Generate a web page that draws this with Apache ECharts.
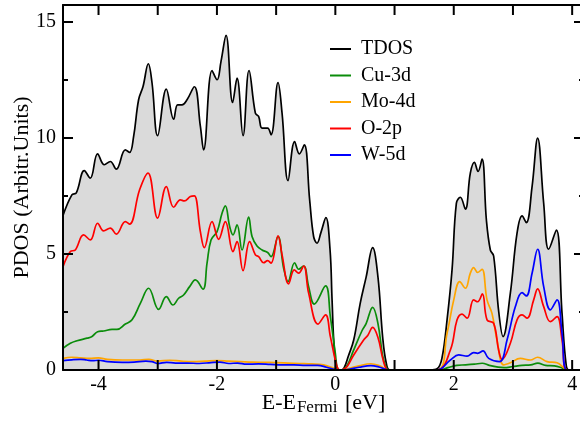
<!DOCTYPE html>
<html>
<head>
<meta charset="utf-8">
<script src="https://cdn.jsdelivr.net/npm/echarts@6/dist/echarts.min.js"></script>
<style>
  html, body { margin: 0; padding: 0; overflow: hidden; background: #fff; }
  #chart { width: 590px; height: 422px; }
</style>
</head>
<body>
<div id="chart"></div>
<script>
// Projected density of states, energies relative to the Fermi level (eV)
const seriesNames = ['TDOS', 'Cu-3d', 'Mo-4d', 'O-2p', 'W-5d'];
const seriesColors = ['#000000', '#0a8c0a', '#ffa500', '#ff0000', '#0000ff'];

const xTickValues = [-4, -3, -2, -1, 0, 1, 2, 3, 4];
const xLabelValues = [-4, -2, 0, 2, 4];
const yTickValues = [0, 5, 10, 15];
const yMinorValues = [2.5, 7.5, 12.5];

const tdos = [
  [-4.6, 6.65], [-4.45, 7.54], [-4.375, 7.63], [-4.24, 8.59], [-4.14, 8.26],
  [-4.016, 9.31], [-3.902, 8.84], [-3.801, 8.98], [-3.7, 8.65], [-3.547, 9.48],
  [-3.475, 9.37], [-3.407, 10.06], [-3.323, 11.64], [-3.248, 12.21], [-3.159, 13.19],
  [-3.096, 12.36], [-3.002, 10.09], [-2.855, 12.1], [-2.731, 10.8], [-2.664, 11.42],
  [-2.59, 11.42], [-2.505, 11.64], [-2.382, 12.2], [-2.28, 10.5], [-2.225, 9.48],
  [-2.083, 12.9], [-1.998, 12.5], [-1.931, 13.29], [-1.846, 14.41], [-1.735, 11.52],
  [-1.66, 12.57], [-1.559, 10.09], [-1.458, 12.9], [-1.351, 11.06], [-1.296, 10.92],
  [-1.238, 10.42], [-1.144, 10.42], [-1.086, 10.13], [-0.968, 12.38], [-0.9, 11.06],
  [-0.799, 8.16], [-0.688, 9.84], [-0.608, 9.31], [-0.524, 9.7], [-0.434, 7.33],
  [-0.367, 5.75], [-0.31, 5.46], [-0.24, 5.95], [-0.16, 6.56], [-0.09, 5.2],
  [-0.055, 3.0], [-0.02, 1.0], [0.03, 0.05], [0.1, 0], [0.15, 0.1],
  [0.22, 0.6], [0.31, 1.29], [0.42, 2.87], [0.52, 4.0], [0.63, 5.27],
  [0.72, 4.0], [0.8, 1.4], [0.86, 0.3], [0.92, 0], [1.6, 0],
  [1.718, 0.05], [1.8, 0.5], [1.887, 2.16], [1.971, 4.31], [2.044, 7.18],
  [2.111, 7.44], [2.196, 6.93], [2.28, 8.48], [2.348, 8.94], [2.41, 8.55],
  [2.478, 9.08], [2.551, 6.47], [2.618, 5.17], [2.674, 4.91], [2.76, 2.5],
  [2.833, 1.44], [2.956, 3.31], [3.069, 5.89], [3.154, 6.64], [3.226, 6.35],
  [3.323, 7.9], [3.417, 9.99], [3.519, 7.18], [3.603, 5.2], [3.733, 6.03],
  [3.829, 2.44], [3.9, 0.2], [3.95, 0], [4.2, 0]
];

const cu3d = [
  [-4.6, 0.93], [-4.476, 1.15], [-4.363, 1.26], [-4.194, 1.37], [-4.11, 1.44],
  [-4.015, 1.65], [-3.914, 1.68], [-3.772, 1.75], [-3.688, 1.75], [-3.547, 1.98],
  [-3.434, 2.16], [-3.294, 2.87], [-3.154, 3.52], [-2.985, 2.61], [-2.855, 3.16],
  [-2.742, 2.8], [-2.647, 3.09], [-2.563, 3.23], [-2.461, 3.59], [-2.365, 3.88],
  [-2.235, 3.48], [-2.167, 4.6], [-2.1, 5.6], [-1.998, 5.96], [-1.914, 6.75],
  [-1.858, 7.07], [-1.785, 6.18], [-1.728, 5.82], [-1.66, 6.25], [-1.576, 5.17],
  [-1.464, 6.58], [-1.407, 5.75], [-1.323, 5.34], [-1.238, 5.17], [-1.144, 5.06],
  [-1.086, 4.88], [-0.968, 5.75], [-0.873, 4.38], [-0.799, 3.81], [-0.688, 4.62],
  [-0.62, 4.34], [-0.535, 4.48], [-0.451, 3.59], [-0.355, 2.84], [-0.165, 3.62],
  [-0.084, 2.3], [0.0, 0.72], [0.04, 0.05], [0.1, 0], [0.2, 0.2],
  [0.3, 0.8], [0.45, 1.69], [0.52, 2.0], [0.63, 2.7], [0.72, 2.0],
  [0.8, 0.6], [0.87, 0.05], [0.92, 0], [1.75, 0], [1.9, 0.1],
  [2.05, 0.2], [2.2, 0.22], [2.35, 0.25], [2.48, 0.29], [2.6, 0.2],
  [2.75, 0.12], [2.85, 0.1], [3.0, 0.15], [3.15, 0.2], [3.3, 0.22],
  [3.42, 0.3], [3.55, 0.2], [3.7, 0.18], [3.82, 0.1], [3.92, 0], [4.2, 0]
];

const mo4d = [
  [-4.6, 0.5], [-4.45, 0.55], [-4.3, 0.52], [-4.15, 0.5], [-4.0, 0.52],
  [-3.85, 0.46], [-3.6, 0.43], [-3.3, 0.43], [-3.15, 0.46], [-3.0, 0.38],
  [-2.8, 0.42], [-2.6, 0.38], [-2.4, 0.36], [-2.2, 0.38], [-2.0, 0.4],
  [-1.8, 0.38], [-1.6, 0.36], [-1.4, 0.34], [-1.2, 0.33], [-1.0, 0.32],
  [-0.8, 0.3], [-0.6, 0.28], [-0.4, 0.26], [-0.2, 0.22], [-0.05, 0.1],
  [0.05, 0], [0.15, 0.02], [0.4, 0.18], [0.6, 0.27], [0.75, 0.18],
  [0.9, 0], [1.718, 0], [1.887, 1.58], [2.0, 3.02], [2.101, 3.81],
  [2.196, 3.52], [2.28, 4.17], [2.336, 4.41], [2.404, 4.2], [2.478, 4.34],
  [2.562, 3.02], [2.646, 2.44], [2.73, 1.29], [2.843, 0.22], [2.956, 0.31],
  [3.125, 0.5], [3.294, 0.43], [3.417, 0.55], [3.576, 0.36], [3.745, 0.31],
  [3.857, 0.1], [3.914, 0], [4.2, 0]
];

const o2p = [
  [-4.6, 4.45], [-4.476, 5.1], [-4.392, 5.17], [-4.252, 5.82], [-4.139, 5.6],
  [-4.015, 6.32], [-3.914, 5.99], [-3.801, 6.11], [-3.7, 5.85], [-3.547, 6.39],
  [-3.475, 6.28], [-3.306, 7.76], [-3.164, 8.48], [-3.002, 6.54], [-2.855, 7.9],
  [-2.731, 7.01], [-2.618, 7.33], [-2.551, 7.28], [-2.449, 7.47], [-2.382, 7.5],
  [-2.28, 5.96], [-2.213, 5.27], [-2.083, 6.39], [-1.971, 5.63], [-1.858, 6.39],
  [-1.728, 5.1], [-1.66, 5.53], [-1.559, 4.28], [-1.448, 5.53], [-1.351, 4.96],
  [-1.296, 4.88], [-1.211, 4.62], [-1.144, 4.71], [-1.086, 4.6], [-0.968, 5.78],
  [-0.9, 4.96], [-0.789, 3.71], [-0.693, 4.31], [-0.62, 4.17], [-0.535, 4.48],
  [-0.451, 3.31], [-0.292, 1.98], [-0.165, 2.37], [-0.084, 1.44], [0.029, 0.14],
  [0.08, 0], [0.13, 0.02], [0.2, 0.15], [0.3, 0.6], [0.478, 1.29],
  [0.55, 1.5], [0.63, 1.84], [0.72, 1.4], [0.8, 0.5], [0.86, 0.05],
  [0.92, 0], [1.718, 0], [1.943, 0.86], [2.056, 2.16], [2.14, 2.41],
  [2.225, 2.23], [2.336, 3.02], [2.404, 2.94], [2.483, 3.28], [2.562, 2.16],
  [2.674, 2.01], [2.758, 0.86], [2.816, 0.46], [2.956, 1.15], [3.069, 2.16],
  [3.154, 2.37], [3.238, 2.23], [3.35, 3.02], [3.417, 3.49], [3.519, 2.73],
  [3.632, 2.08], [3.745, 2.3], [3.829, 1.29], [3.914, 0], [4.2, 0]
];

const w5d = [
  [-4.6, 0.4], [-4.45, 0.44], [-4.3, 0.46], [-4.2, 0.43], [-4.1, 0.4],
  [-4.0, 0.42], [-3.85, 0.36], [-3.6, 0.33], [-3.4, 0.34], [-3.2, 0.38],
  [-3.1, 0.36], [-3.0, 0.28], [-2.85, 0.33], [-2.7, 0.3], [-2.5, 0.3],
  [-2.3, 0.28], [-2.1, 0.32], [-1.95, 0.34], [-1.8, 0.28], [-1.65, 0.3],
  [-1.5, 0.25], [-1.3, 0.26], [-1.1, 0.24], [-0.9, 0.22], [-0.7, 0.22],
  [-0.5, 0.2], [-0.3, 0.2], [-0.15, 0.12], [0.0, 0.02], [0.1, 0],
  [0.2, 0.02], [0.4, 0.12], [0.6, 0.19], [0.75, 0.12], [0.9, 0],
  [1.718, 0], [1.943, 0.43], [2.083, 0.65], [2.225, 0.6], [2.336, 0.75],
  [2.404, 0.72], [2.495, 0.82], [2.59, 0.5], [2.775, 0.36], [2.9, 1.29],
  [3.041, 2.73], [3.154, 3.33], [3.226, 3.19], [3.323, 4.17], [3.417, 5.2],
  [3.519, 3.59], [3.632, 2.59], [3.745, 3.02], [3.829, 1.58], [3.914, 0], [4.2, 0]
];

const seriesData = [tdos, cu3d, mo4d, o2p, w5d];

const serif = "'Liberation Serif', 'Times New Roman', serif";
const X_MIN = -4.6, X_MAX = 4.2, Y_MIN = 0, Y_MAX = 15.72;
const TICK_LEN = 10;

const chart = echarts.init(document.getElementById('chart'), null, { renderer: 'canvas' });

const frameLine = { color: '#000', width: 2 };

function frameX(position, withLabels) {
  return {
    type: 'value', position: position, min: X_MIN, max: X_MAX, z: 20,
    axisLine: { show: true, onZero: false, lineStyle: frameLine },
    axisTick: { show: false },
    axisLabel: withLabels ? {
      show: true, customValues: xLabelValues, margin: 5,
      color: '#000', fontFamily: serif, fontSize: 20
    } : { show: false },
    splitLine: { show: false },
    name: withLabels ? '{a|E-E}{s|Fermi}{a| [eV]}' : '',
    nameLocation: 'middle', nameGap: 22, nameMoveOverlap: false,
    nameTextStyle: {
      rich: {
        a: { fontFamily: serif, fontSize: 22, color: '#000', lineHeight: 24, verticalAlign: 'top' },
        s: { fontFamily: serif, fontSize: 17, color: '#000', lineHeight: 17, verticalAlign: 'bottom', padding: [12, 2, 0, 1] }
      }
    }
  };
}

function yAxisDef(position, ticks, len, withLabels, showLine) {
  return {
    type: 'value', position: position, min: Y_MIN, max: Y_MAX, z: 20,
    axisLine: { show: showLine, onZero: false, lineStyle: frameLine },
    axisTick: { show: true, inside: true, length: len, customValues: ticks, lineStyle: frameLine },
    axisLabel: withLabels ? {
      show: true, customValues: yTickValues, margin: 7,
      color: '#000', fontFamily: serif, fontSize: 20
    } : { show: false },
    splitLine: { show: false },
    name: withLabels ? 'PDOS (Arbitr.Units)' : '',
    nameLocation: 'middle', nameGap: 30, nameMoveOverlap: false,
    nameTextStyle: { fontFamily: serif, fontSize: 22, color: '#000' }
  };
}

const series = seriesNames.map((name, i) => ({
  name: name,
  type: 'line',
  xAxisIndex: 0,
  yAxisIndex: 0,
  data: seriesData[i],
  smooth: 0.4,
  symbol: 'none',
  showSymbol: false,
  clip: true,
  lineStyle: { color: seriesColors[i], width: 1.7 },
  itemStyle: { color: seriesColors[i] },
  areaStyle: i === 0 ? { color: '#dadada', opacity: 1 } : undefined,
  z: 2 + i
}));

// Inward tick marks on the top and bottom frame at every whole eV
series.push({
  type: 'custom',
  xAxisIndex: 0,
  yAxisIndex: 0,
  silent: true,
  clip: false,
  z: 30,
  data: xTickValues.map(v => [v, 0]),
  encode: { x: 0, y: 1 },
  renderItem: function (params, api) {
    const x = api.coord([api.value(0), 0])[0];
    const top = params.coordSys.y;
    const bottom = params.coordSys.y + params.coordSys.height;
    const style = { stroke: '#000', lineWidth: 2 };
    return {
      type: 'group',
      children: [
        { type: 'line', shape: { x1: x, y1: bottom, x2: x, y2: bottom - TICK_LEN }, style: style },
        { type: 'line', shape: { x1: x, y1: top, x2: x, y2: top + TICK_LEN }, style: style }
      ]
    };
  }
});

chart.setOption({
  animation: false,
  backgroundColor: '#fff',
  grid: { left: 63, top: 5, width: 521, height: 365, containLabel: false, outerBoundsMode: 'none' },
  xAxis: [frameX('bottom', true), frameX('top', false)],
  yAxis: [
    yAxisDef('left', yTickValues, 10, true, true),
    yAxisDef('left', yMinorValues, 5, false, false),
    yAxisDef('right', yTickValues, 10, false, true),
    yAxisDef('right', yMinorValues, 5, false, false)
  ],
  legend: {
    orient: 'vertical', left: 330, top: 39, padding: 0,
    itemWidth: 21, itemHeight: 20, itemGap: 6.5,
    icon: 'path://M0,9H21V11H0Z',
    textStyle: { fontFamily: serif, fontSize: 20, color: '#000', padding: [0, 0, 0, 5] },
    data: seriesNames.map((n, i) => ({ name: n, itemStyle: { color: seriesColors[i] } })),
    selectedMode: false
  },
  series: series
});
</script>
</body>
</html>
